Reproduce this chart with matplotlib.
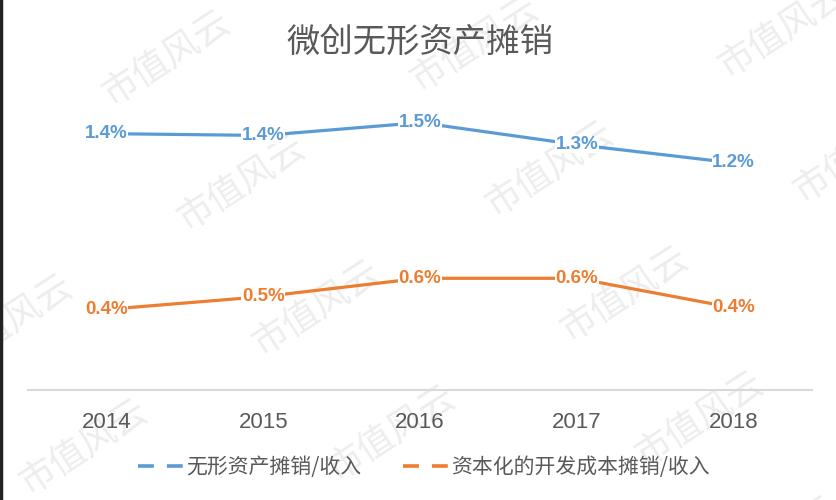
import numpy as np
import matplotlib
matplotlib.use("Agg")
import matplotlib.pyplot as plt
from matplotlib.lines import Line2D

# donnees
years = ["2014", "2015", "2016", "2017", "2018"]
amort_incorporel = [1.40, 1.39, 1.46, 1.34, 1.24]      # 无形资产摊销/收入 (%)
amort_dev_capital = [0.44, 0.51, 0.61, 0.61, 0.449]    # 资本化的开发成本摊销/收入 (%)
series_names = ["无形资产摊销/收入", "资本化的开发成本摊销/收入"]
title = "微创无形资产摊销"
watermark = "市值风云"

BLUE = "#5B9BD5"
ORANGE = "#ED7D31"
GRAY = "#595959"
CJK = ["Noto Sans CJK SC", "DejaVu Sans"]

W, H = 837, 500
fig = plt.figure(figsize=(W / 100, H / 100), dpi=100)
fig.patch.set_facecolor("white")

ax = fig.add_axes([28 / W, 1 - 390 / H, (812 - 28) / W, 293 / H])
ax.patch.set_alpha(0)

x = np.arange(len(years))
for vals, col in [(amort_incorporel, BLUE), (amort_dev_capital, ORANGE)]:
    ax.plot(x, vals, color=col, lw=2.3, solid_capstyle="butt", zorder=2)
    for xi, v in zip(x, vals):
        ax.text(xi, v, f"{v:.1f}%", ha="center", va="center", color=col,
                fontsize=13.5, fontweight="bold", family="Liberation Sans",
                bbox=dict(facecolor="white", edgecolor="none", pad=0.3), zorder=3)

ax.set_xlim(-0.5, len(years) - 0.5)
ax.set_ylim(0, 1.6)
ax.set_yticks([])
ax.set_xticks(x)
ax.set_xticklabels(years, fontsize=16, color=GRAY, family="Liberation Sans")
ax.tick_params(axis="x", length=0, pad=16)
for s in ["top", "right", "left"]:
    ax.spines[s].set_visible(False)
ax.spines["bottom"].set_color("#D9D9D9")
ax.spines["bottom"].set_linewidth(1.5)

fig.text(420 / W, 1 - 42 / H, title, ha="center", va="center",
         fontsize=24, color=GRAY, family=CJK)

dash = (0, (4.4, 3.6))
handles = [Line2D([], [], color=BLUE, lw=2.6, ls=dash),
           Line2D([], [], color=ORANGE, lw=2.6, ls=dash)]
leg = fig.legend(handles, series_names, loc="center", ncol=2,
                 bbox_to_anchor=(424 / W, 1 - 467 / H), frameon=False,
                 prop={"family": CJK, "size": 15}, handlelength=2.2,
                 handletextpad=0.1, columnspacing=2.0)
for t in leg.get_texts():
    t.set_color(GRAY)

# filigrane en arriere-plan
x0, y0 = 166, 58
for i in range(-2, 4):
    for j in range(-1, 5):
        px = x0 + 308 * i + 75 * j
        py = y0 - 14 * i + 125 * j
        if -80 < px < W + 80 and -60 < py < H + 60:
            fig.text(px / W, 1 - py / H, watermark, ha="center", va="center",
                     rotation=33, fontsize=26, color="#EDEDED", family=CJK,
                     fontweight="light", zorder=-1)

# bord gauche sombre
fig.add_artist(Line2D([1.5 / W, 1.5 / W], [0, 1], color="#222222", lw=2.5))

fig.savefig("out.png", dpi=100)
